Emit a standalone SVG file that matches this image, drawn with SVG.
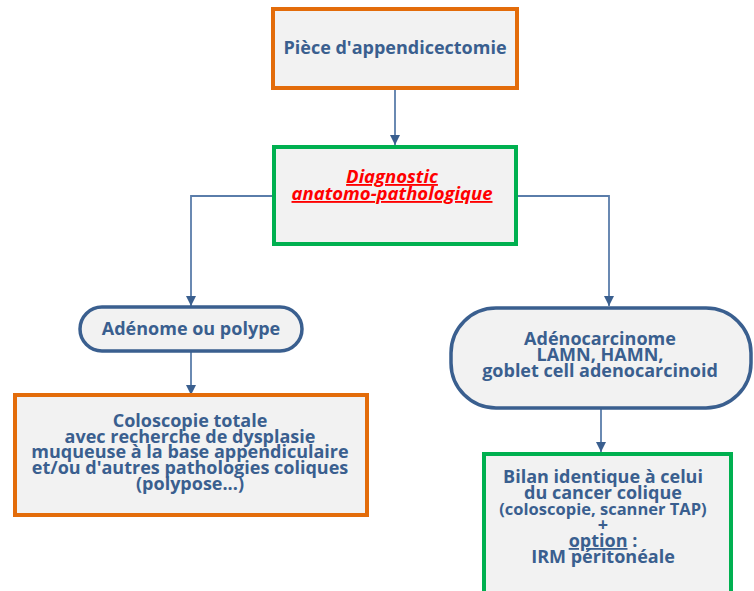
<svg xmlns="http://www.w3.org/2000/svg" width="754" height="591" viewBox="0 0 754 591">
<defs>
<marker id="ah" viewBox="0 0 10 10" refX="10" refY="5" markerWidth="10" markerHeight="10" markerUnits="userSpaceOnUse" orient="auto">
<path d="M0,0 L10,5 L0,10 Z" fill="#3A5F8F"/>
</marker>
<style>
.box{fill:#F2F2F2;stroke-width:4}
.or{stroke:#E36C0A}
.gr{stroke:#00B050}
.pill{fill:#F2F2F2;stroke:#3A5F8F;stroke-width:3.5}
.t{font-family:"Open Sans","Noto Sans",sans-serif;font-weight:bold;fill:#3A5F8F;text-anchor:middle;font-size:18px}
.red{font-family:"Open Sans","Noto Sans",sans-serif;font-weight:bold;font-style:italic;fill:#FF0000;text-anchor:middle;font-size:18.5px;text-decoration:underline}
.c{fill:none;stroke:#5A7DAA;stroke-width:1.8}
</style>
</defs>
<g id="connectors">
<path class="c" d="M395,90 V145" marker-end="url(#ah)"/>
<path class="c" d="M272,196 H191 V306" marker-end="url(#ah)"/>
<path class="c" d="M517,196 H609 V306" marker-end="url(#ah)"/>
<path class="c" d="M191,352 V395" marker-end="url(#ah)"/>
<path class="c" d="M601,408 V452" marker-end="url(#ah)"/>
</g>
<g id="n1">
<rect class="box or" x="273" y="9" width="244" height="79"/>
<text class="t" x="395" y="54">Pièce d'appendicectomie</text>
</g>
<g id="n2">
<rect class="box gr" x="274" y="147" width="242" height="97"/>
<text class="red"><tspan x="392" y="183">Diagnostic</tspan><tspan x="392" y="200">anatomo-pathologique</tspan></text>
</g>
<g id="n3">
<rect class="pill" x="80" y="307" width="222" height="44" rx="22"/>
<text class="t" x="191" y="335">Adénome ou polype</text>
</g>
<g id="n4">
<rect class="box or" x="15" y="395" width="352" height="120"/>
<text class="t"><tspan x="190" y="427">Coloscopie totale</tspan><tspan x="190" y="443">avec recherche de dysplasie</tspan><tspan x="190" y="458">muqueuse à la base appendiculaire</tspan><tspan x="190" y="474">et/ou d'autres pathologies coliques</tspan><tspan x="190" y="490">(polypose...)</tspan></text>
</g>
<g id="n5">
<rect class="pill" x="451" y="308" width="300" height="100" rx="45"/>
<text class="t"><tspan x="600" y="345">Adénocarcinome</tspan><tspan x="600" y="361">LAMN, HAMN,</tspan><tspan x="600" y="377">goblet cell adenocarcinoid</tspan></text>
</g>
<g id="n6">
<rect class="box gr" x="484" y="454" width="247" height="150"/>
<text class="t"><tspan x="603" y="483">Bilan identique à celui</tspan><tspan x="603" y="499">du cancer colique</tspan><tspan x="603" y="515" style="font-size:16.5px">(coloscopie, scanner TAP)</tspan><tspan x="603" y="531">+</tspan><tspan x="603" y="547" text-decoration="underline">option</tspan><tspan> :</tspan><tspan x="603" y="563">IRM péritonéale</tspan></text>
</g>
</svg>
